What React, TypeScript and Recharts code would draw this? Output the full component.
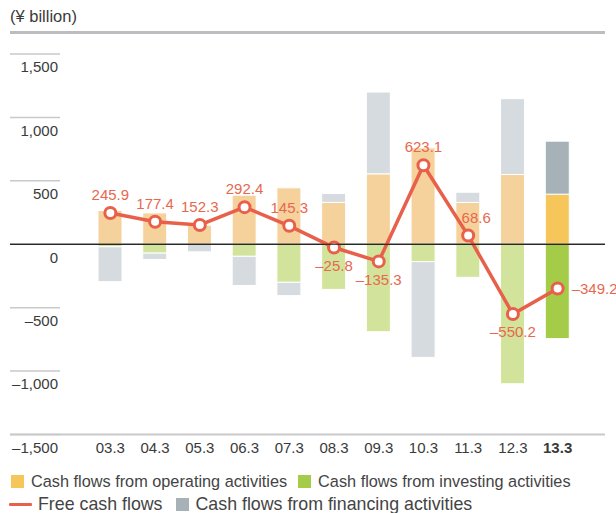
import React from 'react';
import {
  ComposedChart,
  Bar,
  Line,
  XAxis,
  YAxis,
  Cell,
  LabelList,
  ReferenceLine,
} from 'recharts';

// Fiscal years ending March
const periods = ['03.3', '04.3', '05.3', '06.3', '07.3', '08.3', '09.3', '10.3', '11.3', '12.3', '13.3'];
const operating = [266, 247, 150, 387, 445, 330, 555, 760, 330, 550, 395];
const investing = [-20, -70, 0, -95, -300, -356, -690, -137, -261, -1100, -744];
const financing = [-275, -50, -60, -230, -105, 70, 645, -755, 80, 598, 418];
const freeCashFlow = [245.9, 177.4, 152.3, 292.4, 145.3, -25.8, -135.3, 623.1, 68.6, -550.2, -349.2];
const yTicks = [-1500, -1000, -500, 0, 500, 1000, 1500];

// where each free cash flow label sits relative to its dot
const labelSide = ['top', 'top', 'top', 'top', 'top', 'bottom', 'bottom', 'top', 'topRight', 'bottom', 'right'];

const FONT = '"Liberation Sans", Arial, sans-serif';
const RED = '#E8604A';
const COLORS = {
  operating: { light: '#F5D29C', dark: '#F6C65B' },
  investing: { light: '#D2E49C', dark: '#A5CC48' },
  financing: { light: '#D6DBDF', dark: '#A6B1B8' },
};

const data = periods.map((period, i) => ({
  period,
  operating: operating[i],
  investing: investing[i],
  financing: financing[i],
  fcf: freeCashFlow[i],
}));

const lastIndex = periods.length - 1;

function fmt(v: number, decimals = 0) {
  const s = Math.abs(v).toLocaleString('en-US', { minimumFractionDigits: decimals, maximumFractionDigits: decimals });
  return v < 0 ? `\u2013${s}` : s;
}

function YTick({ y, payload }: any) {
  const isZero = payload.value === 0;
  return (
    <g>
      <line
        x1={10}
        x2={isZero ? 605 : 60}
        y1={y}
        y2={y}
        stroke={isZero ? '#1a1a1a' : '#C9C9CB'}
        strokeWidth={isZero ? 1.2 : 1.5}
      />
      <text x={58} y={y + 13} dy="0.35em" textAnchor="end" fontSize={15} fill="#3a3a3a" fontFamily={FONT}>
        {fmt(payload.value)}
      </text>
    </g>
  );
}

function XTick({ x, y, payload, index }: any) {
  return (
    <text
      x={x}
      y={y}
      dy="0.71em"
      textAnchor="middle"
      fontSize={15}
      fill="#3a3a3a"
      fontWeight={index === lastIndex ? 'bold' : 'normal'}
      fontFamily={FONT}
    >
      {payload.value}
    </text>
  );
}

function FcfLabel({ x, y, value, index }: any) {
  const side = labelSide[index];
  let dx = 0;
  let dy = -18;
  let anchor: 'middle' | 'start' = 'middle';
  if (side === 'bottom') dy = 18;
  if (side === 'topRight') dx = 8;
  if (side === 'right') {
    dx = 14;
    dy = 0;
    anchor = 'start';
  }
  return (
    <text
      x={x + dx}
      y={y + dy}
      dy="0.35em"
      textAnchor={anchor}
      fontSize={15}
      fill="#E8684F"
      fontFamily={FONT}
    >
      {fmt(value, 1)}
    </text>
  );
}

function Square({ color, size = 13 }: { color: string; size?: number }) {
  return <span style={{ display: 'inline-block', width: size, height: size, background: color, marginRight: 7 }} />;
}

export default function App() {
  return (
    <div style={{ position: 'absolute', left: 0, top: 0, width: 616, height: 513, background: '#fff', fontFamily: FONT }}>
      <div style={{ position: 'absolute', left: 10, top: 7, fontSize: 16.5, color: '#3a3a3a' }}>(¥ billion)</div>
      <div style={{ position: 'absolute', left: 10, top: 31, width: 595, height: 3, background: '#BCBDC1' }} />

      <div style={{ position: 'absolute', left: 0, top: 0 }}>
        <ComposedChart
          width={616}
          height={465}
          data={data}
          stackOffset="sign"
          margin={{ top: 54, right: 11, bottom: 0, left: 0 }}
        >
          <XAxis
            dataKey="period"
            axisLine={false}
            tickLine={false}
            interval={0}
            height={30.5}
            padding={{ left: 78, right: 25 }}
            tick={<XTick />}
          />
          <YAxis
            width={10}
            domain={[-1500, 1500]}
            ticks={yTicks}
            interval={0}
            axisLine={false}
            tickLine={false}
            tick={<YTick />}
          />
          <ReferenceLine y={-1500} stroke="#C9C9CB" strokeWidth={2} />
          <Bar dataKey="operating" stackId="cf" barSize={24} stroke="#fff" strokeWidth={1} isAnimationActive={false}>
            {data.map((_, i) => (
              <Cell key={i} fill={i === lastIndex ? COLORS.operating.dark : COLORS.operating.light} />
            ))}
          </Bar>
          <Bar dataKey="investing" stackId="cf" barSize={24} stroke="#fff" strokeWidth={1} isAnimationActive={false}>
            {data.map((_, i) => (
              <Cell key={i} fill={i === lastIndex ? COLORS.investing.dark : COLORS.investing.light} />
            ))}
          </Bar>
          <Bar dataKey="financing" stackId="cf" barSize={24} stroke="#fff" strokeWidth={1} isAnimationActive={false}>
            {data.map((_, i) => (
              <Cell key={i} fill={i === lastIndex ? COLORS.financing.dark : COLORS.financing.light} />
            ))}
          </Bar>
          <ReferenceLine y={0} stroke="#1a1a1a" strokeWidth={1.2} />
          <Line
            dataKey="fcf"
            type="linear"
            stroke={RED}
            strokeWidth={3.5}
            dot={{ r: 5.5, fill: '#fff', stroke: RED, strokeWidth: 3 }}
            activeDot={false}
            isAnimationActive={false}
          >
            <LabelList dataKey="fcf" content={<FcfLabel />} />
          </Line>
        </ComposedChart>
      </div>

      <div style={{ position: 'absolute', left: 11, top: 472, fontSize: 16.3, color: '#444', display: 'flex', alignItems: 'center', lineHeight: '18px', whiteSpace: 'nowrap' }}>
        <Square color={COLORS.operating.dark} />
        <span style={{ marginRight: 11 }}>Cash flows from operating activities</span>
        <Square color={COLORS.investing.dark} />
        <span>Cash flows from investing activities</span>
      </div>
      <div style={{ position: 'absolute', left: 9, top: 494, fontSize: 17.8, color: '#444', display: 'flex', alignItems: 'center', lineHeight: '20px', whiteSpace: 'nowrap' }}>
        <span style={{ display: 'inline-block', width: 23, height: 3, background: RED, marginRight: 6, borderRadius: 1 }} />
        <span style={{ marginRight: 13 }}>Free cash flows</span>
        <Square color={COLORS.financing.dark} />
        <span>Cash flows from financing activities</span>
      </div>
    </div>
  );
}
